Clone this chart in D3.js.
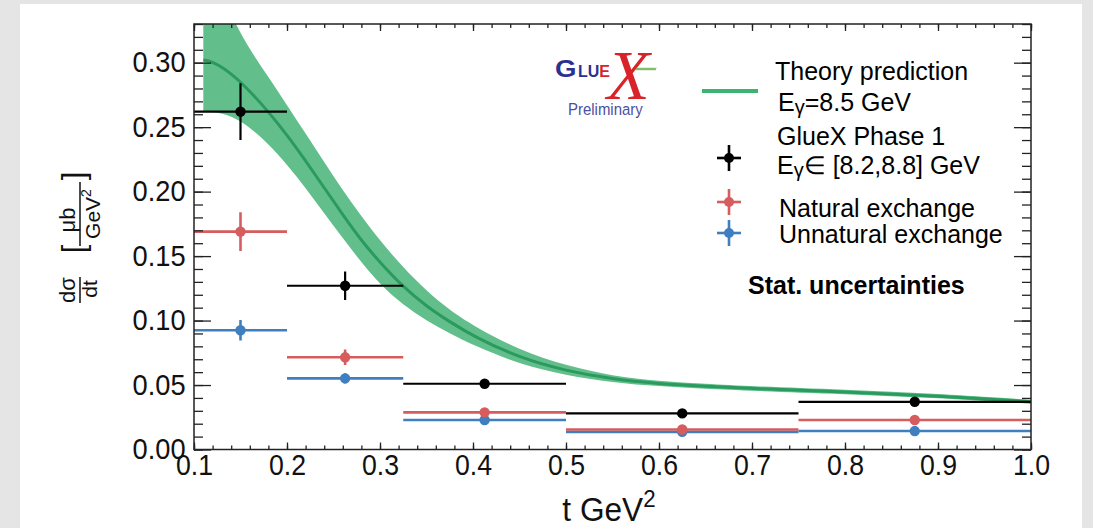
<!DOCTYPE html>
<html><head><meta charset="utf-8">
<script src="https://cdn.jsdelivr.net/npm/d3@7"></script>
<style>html,body{margin:0;padding:0;background:#e5e5e5;} svg{display:block;}</style>
</head><body><svg id="c" width="1093" height="528"></svg>
<script>
// ---------------- data ----------------
const binLo = [0.1, 0.2, 0.325, 0.5, 0.75];
const binHi = [0.2, 0.325, 0.5, 0.75, 1.0];
const tCenter = [0.15, 0.2625, 0.4125, 0.625, 0.875];
const gluex = [0.262, 0.127, 0.051, 0.028, 0.037];
const gluexErr = [0.022, 0.011, 0.003, 0.003, 0.003];
const natural = [0.169, 0.0715, 0.0288, 0.0155, 0.0229];
const naturalErr = [0.015, 0.006, 0.002, 0.0015, 0.0015];
const unnatural = [0.0925, 0.0552, 0.0229, 0.0137, 0.0143];
const unnaturalErr = [0.008, 0.004, 0.0015, 0.0012, 0.0012];

const theoryT   = [0.11, 0.12, 0.14, 0.16, 0.18, 0.20, 0.22, 0.24, 0.26, 0.28, 0.30, 0.325, 0.35, 0.375, 0.40, 0.45, 0.50, 0.55, 0.60, 0.65, 0.70, 0.80, 0.90, 1.00];
const theoryMid = [0.302,0.301,0.292,0.278,0.262,0.244,0.224,0.203,0.182,0.162,0.145,0.126,0.111,0.099,0.088,0.071,0.061,0.0545,0.051,0.049,0.0472,0.0448,0.0415,0.037];
const theoryHi  = [0.400,0.372,0.336,0.310,0.289,0.267,0.245,0.223,0.201,0.181,0.162,0.141,0.123,0.108,0.096,0.077,0.065,0.057,0.053,0.051,0.049,0.0465,0.0432,0.0385];
const theoryLo  = [0.262,0.262,0.259,0.250,0.237,0.221,0.203,0.183,0.164,0.145,0.128,0.112,0.100,0.090,0.081,0.066,0.0575,0.052,0.049,0.047,0.0455,0.043,0.040,0.0355];

const xTicks = [0.1,0.2,0.3,0.4,0.5,0.6,0.7,0.8,0.9,1.0];
const yTicks = [0.00,0.05,0.10,0.15,0.20,0.25,0.30];

// ---------------- layout ----------------
const svg = d3.select("#c");
const FONT = "'Liberation Sans', Arial, Helvetica, sans-serif";
svg.append("rect").attr("x",20).attr("y",4).attr("width",1062).attr("height",530).attr("fill","#fff");

const M = {left:194, right:1031, top:24, bottom:449.5};
const x = d3.scaleLinear().domain([0.1,1.0]).range([M.left,M.right]);
const y = d3.scaleLinear().domain([0,0.33]).range([M.bottom,M.top]);

svg.append("clipPath").attr("id","clip").append("rect")
  .attr("x",M.left).attr("y",M.top).attr("width",M.right-M.left).attr("height",M.bottom-M.top);

const plot = svg.append("g").attr("clip-path","url(#clip)");

// theory band
const theory = theoryT.map((t,i)=>({t, mid:theoryMid[i], hi:theoryHi[i], lo:theoryLo[i]}));
plot.append("path").datum(theory)
  .attr("d", d3.area().x(d=>x(d.t)).y0(d=>y(d.lo)).y1(d=>y(d.hi)).curve(d3.curveBasis))
  .attr("fill","#62bf8b");
plot.append("path").datum(theory)
  .attr("d", d3.line().x(d=>x(d.t)).y(d=>y(d.mid)).curve(d3.curveBasis))
  .attr("fill","none").attr("stroke","#2a9a5e").attr("stroke-width",3);

// data series
const series = [
  {v:unnatural, e:unnaturalErr, c:"#3f7fc0", w:2.6},
  {v:natural, e:naturalErr, c:"#d65c5e", w:2.6},
  {v:gluex, e:gluexErr, c:"#000000", w:2.2},
];
series.forEach(s=>{
  const g = plot.append("g");
  const pts = s.v.map((v,i)=>({v, e:s.e[i], lo:binLo[i], hi:binHi[i], t:tCenter[i]}));
  g.selectAll("line.h").data(pts).join("line")
    .attr("x1",d=>x(d.lo)).attr("x2",d=>x(d.hi)).attr("y1",d=>y(d.v)).attr("y2",d=>y(d.v))
    .attr("stroke",s.c).attr("stroke-width",s.w);
  g.selectAll("line.v").data(pts).join("line")
    .attr("x1",d=>x(d.t)).attr("x2",d=>x(d.t)).attr("y1",d=>y(d.v-d.e)).attr("y2",d=>y(d.v+d.e))
    .attr("stroke",s.c).attr("stroke-width",s.w);
  g.selectAll("circle").data(pts).join("circle")
    .attr("cx",d=>x(d.t)).attr("cy",d=>y(d.v)).attr("r",5.2).attr("fill",s.c);
});

// ---------------- axes ----------------
const yMinor = d3.range(0,34).map(i=>i/100);
const xMinor = d3.range(0,46).map(i=>0.1+i*0.02).filter(v=>v<=1.0001);
function styleAxis(g){ g.select(".domain").remove(); g.selectAll("line").attr("stroke","#222").attr("stroke-width",1.3); }

svg.append("g").attr("transform",`translate(${M.left},0)`)
  .call(d3.axisLeft(y).tickValues(yMinor).tickSize(-9).tickFormat("")).call(styleAxis);
svg.append("g").attr("transform",`translate(${M.right},0)`)
  .call(d3.axisRight(y).tickValues(yMinor).tickSize(-9).tickFormat("")).call(styleAxis);
svg.append("g").attr("transform",`translate(${M.right},0)`)
  .call(d3.axisRight(y).tickValues(yTicks).tickSize(-17).tickFormat("")).call(styleAxis);
const yAx = svg.append("g").attr("transform",`translate(${M.left},0)`)
  .call(d3.axisLeft(y).tickValues(yTicks).tickSize(-17).tickPadding(9).tickFormat(d3.format(".2f"))).call(styleAxis);
yAx.selectAll("text").attr("font-family",FONT).attr("font-size",29).attr("fill","#111")
  .attr("transform","scale(0.94,1)");

svg.append("g").attr("transform",`translate(0,${M.bottom})`)
  .call(d3.axisBottom(x).tickValues(xMinor).tickSize(-4).tickFormat("")).call(styleAxis);
svg.append("g").attr("transform",`translate(0,${M.top})`)
  .call(d3.axisTop(x).tickValues(xMinor).tickSize(-4).tickFormat("")).call(styleAxis);
svg.append("g").attr("transform",`translate(0,${M.top})`)
  .call(d3.axisTop(x).tickValues(xTicks).tickSize(-7).tickFormat("")).call(styleAxis);
const xAx = svg.append("g").attr("transform",`translate(0,${M.bottom})`)
  .call(d3.axisBottom(x).tickValues(xTicks).tickSize(-7).tickPadding(5).tickFormat(d3.format(".1f"))).call(styleAxis);
xAx.selectAll("text").attr("font-family",FONT).attr("font-size",29).attr("fill","#111")
  .attr("transform","scale(0.92,1)");

svg.append("rect").attr("x",M.left).attr("y",M.top).attr("width",M.right-M.left).attr("height",M.bottom-M.top)
  .attr("fill","none").attr("stroke","#222").attr("stroke-width",1.5);

// x title
const xt = svg.append("text").attr("x",609).attr("y",521).attr("text-anchor","middle")
  .attr("font-family",FONT).attr("font-size",34).attr("fill","#111")
  .attr("transform","translate(609,0) scale(0.93,1) translate(-609,0)");
xt.append("tspan").text("t GeV");
xt.append("tspan").attr("font-size",24).attr("dy",-14).text("2");

// y title (rotated)
const yt = svg.append("g").attr("transform","rotate(-90)").attr("font-family",FONT).attr("fill","#111");
yt.append("text").attr("x",-290).attr("y",75).attr("text-anchor","middle").attr("font-size",22).text("dσ");
yt.append("line").attr("x1",-303).attr("x2",-277).attr("y1",80).attr("y2",80).attr("stroke","#111").attr("stroke-width",1.5);
yt.append("text").attr("x",-289).attr("y",97).attr("text-anchor","middle").attr("font-size",21).text("dt");
yt.append("text").attr("x",-249).attr("y",84).attr("text-anchor","middle").attr("font-size",31).text("[");
yt.append("text").attr("x",-220).attr("y",75).attr("text-anchor","middle").attr("font-size",22).text("μb");
yt.append("line").attr("x1",-246).attr("x2",-182).attr("y1",80).attr("y2",80).attr("stroke","#111").attr("stroke-width",1.5);
const gev = yt.append("text").attr("x",-214).attr("y",100).attr("text-anchor","middle").attr("font-size",21);
gev.append("tspan").text("GeV");
gev.append("tspan").attr("font-size",14).attr("dy",-9).text("2");
yt.append("text").attr("x",-176).attr("y",84).attr("text-anchor","middle").attr("font-size",31).text("]");

// ---------------- legend ----------------
const lg = svg.append("g").attr("font-family",FONT).attr("fill","#000").attr("font-size",25);
lg.append("line").attr("x1",702).attr("x2",758).attr("y1",91).attr("y2",91).attr("stroke","#3cb371").attr("stroke-width",4);
lg.append("text").attr("x",775).attr("y",80).text("Theory prediction");
const e1 = lg.append("text").attr("x",778).attr("y",111);
e1.append("tspan").text("E"); e1.append("tspan").attr("font-size",20).attr("dy",3).text("γ");
e1.append("tspan").attr("dy",-3).text("=8.5 GeV");
lg.append("text").attr("x",777).attr("y",145).text("GlueX Phase 1");
const e2 = lg.append("text").attr("x",777).attr("y",174);
e2.append("tspan").text("E"); e2.append("tspan").attr("font-size",20).attr("dy",3).text("γ");
e2.append("tspan").attr("dy",-3).text("∈ [8.2,8.8] GeV");
lg.append("text").attr("x",779).attr("y",217).text("Natural exchange");
lg.append("text").attr("x",779).attr("y",243).text("Unnatural exchange");
lg.append("text").attr("x",748).attr("y",294).attr("font-weight","bold").text("Stat. uncertainties");

const legMarks = [{c:"#000", yy:158}, {c:"#d65c5e", yy:202}, {c:"#3f7fc0", yy:233}];
legMarks.forEach(m=>{
  lg.append("line").attr("x1",717).attr("x2",741).attr("y1",m.yy).attr("y2",m.yy).attr("stroke",m.c).attr("stroke-width",2.6);
  lg.append("line").attr("x1",729).attr("x2",729).attr("y1",m.yy-13).attr("y2",m.yy+13).attr("stroke",m.c).attr("stroke-width",2.6);
  lg.append("circle").attr("cx",729).attr("cy",m.yy).attr("r",5).attr("fill",m.c);
});

// ---------------- GlueX logo ----------------
const logo = svg.append("g").attr("font-family",FONT);
logo.append("text").attr("x",555/1.2).attr("y",77).attr("font-weight","bold").attr("fill","#2a3192")
  .attr("font-size",23).attr("transform","scale(1.2,1)").text("G");
const gl = logo.append("text").attr("x",578).attr("y",77).attr("font-weight","bold").attr("font-size",16).attr("fill","#2a3192");
gl.append("tspan").text("LU");
gl.append("tspan").attr("fill","#d9232b").text("E");
logo.append("text").attr("x",607).attr("y",99).attr("font-family","'Liberation Serif', 'DejaVu Serif', serif")
  .attr("font-style","italic").attr("font-size",70).attr("fill","#d9232b").text("X");
const wave = d3.range(0,21).map(i=>[636+i, 69 + (i%2===0?-1.2:1.2)]);
logo.append("path").attr("d",d3.line()(wave)).attr("fill","none").attr("stroke","#5aaa3a").attr("stroke-width",0.9);
logo.append("text").attr("x",568/0.88).attr("y",115).attr("font-size",17).attr("fill","#4d4fa0")
  .attr("transform","scale(0.88,1)").text("Preliminary");
</script></body></html>
